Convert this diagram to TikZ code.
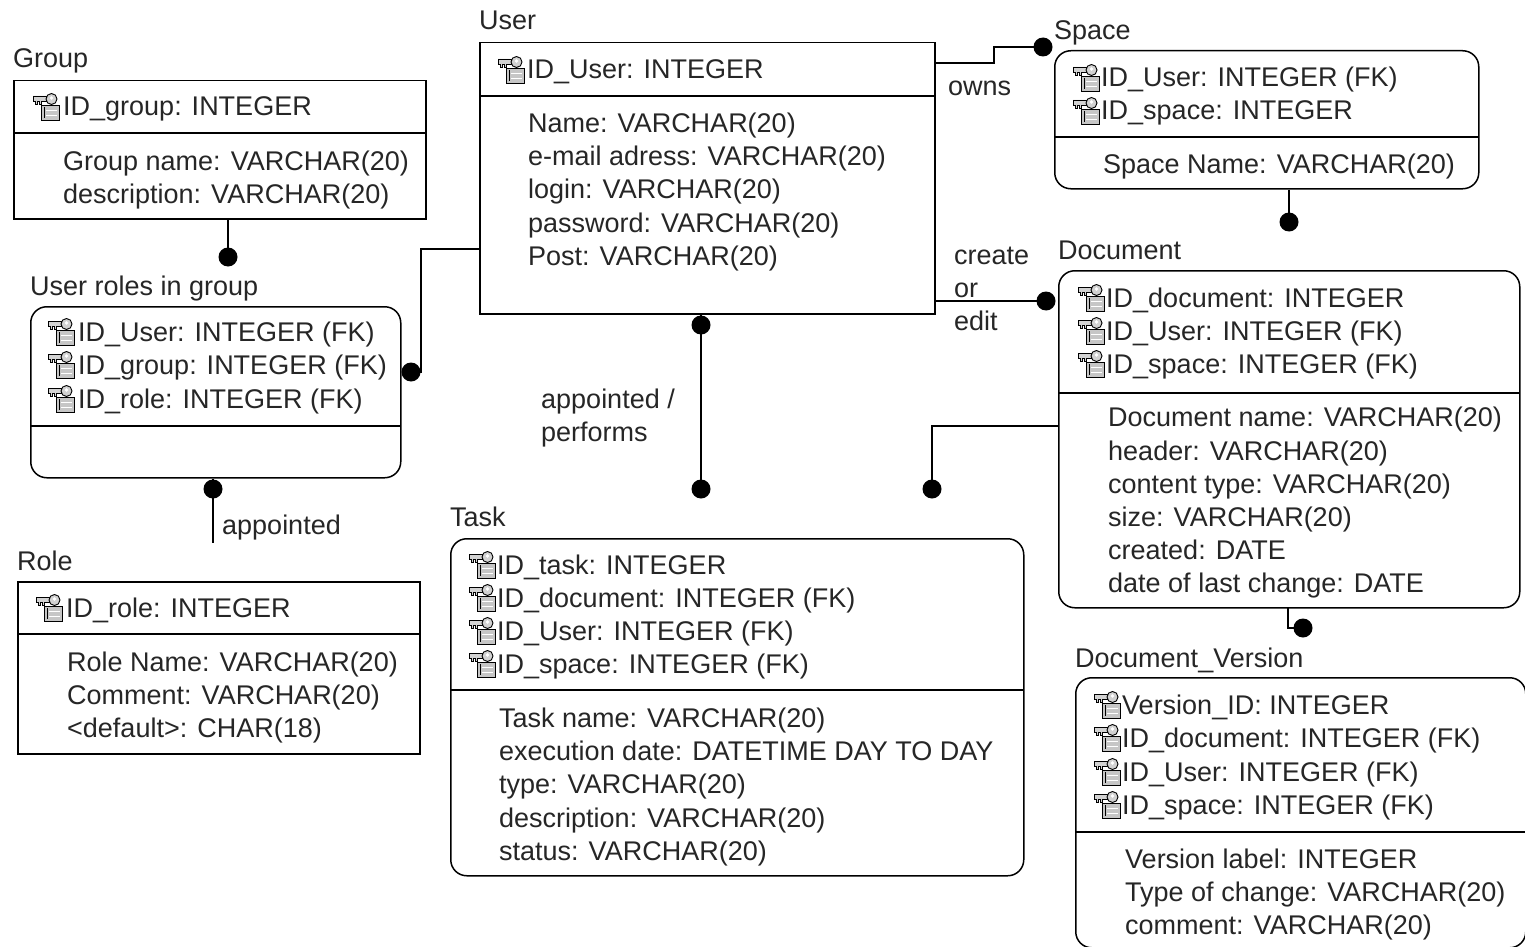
\documentclass[tikz,border=0pt]{standalone}
\usepackage{fontspec}
\setmainfont{Liberation Sans}
\usetikzlibrary{calc}
\newcommand{\krow}[5]{%
  \pic at (#2,#4-14) {keyicon};
  \node[txt] (#1) at (#3,#4+10) {#5};
}
\newcommand{\arow}[4]{%
  \node[txt] (#1) at (#2,#3+10) {#4};
}
\begin{document}
\begin{tikzpicture}[x=1pt,y=-1pt,
  font=\fontsize{27}{33}\selectfont,
  tbl/.style={draw, line width=1.5pt, inner sep=0pt, anchor=north west},
  rtbl/.style={tbl, rounded corners=16pt},
  txt/.style={anchor=base west, inner sep=0pt, text=black!85},
  ttl/.style={anchor=base west, inner sep=0pt, text=black!85},
  dot/.style={circle, fill=black, inner sep=0pt, minimum size=19pt},
  conn/.style={line width=1.5pt},
  div/.style={line width=1.5pt},
  keyicon/.pic={
    \draw[line width=0.9pt, fill=gray!45] (9,13) rectangle (27,28);
    \draw[line width=0.9pt, white] (14,18.5) -- (25,18.5) (14,23) -- (25,23);
    \draw[line width=0.9pt] (12.5,15) -- (12.5,26);
    \draw[line width=0.9pt, fill=gray!35] (1,4) -- (14,4) -- (14,9) -- (9,9) -- (9,12) -- (7,12) -- (7,9) -- (5,9) -- (5,12) -- (3,12) -- (3,9) -- (1,9) -- cycle;
    \draw[line width=0.9pt, fill=gray!35] (19.5,7) circle (5.5);
    \fill[white] (19.5,6) circle (1.8);
  }]
\useasboundingbox (0,0) rectangle (1525,947);
\fill[white] (0,0) rectangle (1525,947);

% ---------- Group ----------
\node[ttl] (tgroup) at (13,68) {Group};
\node[tbl, minimum width=412pt, minimum height=138pt] (group) at (13,80) {};
\draw[div] (13,133) -- (425,133);
\krow{g1}{32}{63}{106}{ID\_group: INTEGER}
\arow{g2}{63}{160}{Group name: VARCHAR(20)}
\arow{g3}{63}{193}{description: VARCHAR(20)}

% ---------- User roles in group ----------
\node[ttl] (tur) at (30,295) {User roles in group};
\node[rtbl, minimum width=370pt, minimum height=171pt] (ur) at (30,306) {};
\draw[div] (30,426) -- (400,426);
\krow{u1}{47}{78}{331}{ID\_User: INTEGER (FK)}
\krow{u2}{47}{78}{364}{ID\_group: INTEGER (FK)}
\krow{u3}{47}{78}{398}{ID\_role: INTEGER (FK)}

% ---------- Role ----------
\node[ttl] (trole) at (17,570) {Role};
\node[tbl, minimum width=402pt, minimum height=172pt] (role) at (17,581) {};
\draw[div] (17,634) -- (419,634);
\krow{r1}{35}{66}{607}{ID\_role: INTEGER}
\arow{r2}{67}{661}{Role Name: VARCHAR(20)}
\arow{r3}{67}{694}{Comment: VARCHAR(20)}
\arow{r4}{67}{727}{<default>: CHAR(18)}

% ---------- User ----------
\node[ttl] (tuser) at (479,30) {User};
\node[tbl, minimum width=455pt, minimum height=271pt] (user) at (479,42) {};
\draw[div] (479,96) -- (934,96);
\krow{us1}{497}{527}{69}{ID\_User: INTEGER}
\arow{us2}{528}{122}{Name: VARCHAR(20)}
\arow{us3}{528}{155}{e-mail adress: VARCHAR(20)}
\arow{us4}{528}{188}{login: VARCHAR(20)}
\arow{us5}{528}{222}{password: VARCHAR(20)}
\arow{us6}{528}{255}{Post: VARCHAR(20)}

% ---------- Space ----------
\node[ttl] (tspace) at (1054,40) {Space};
\node[rtbl, minimum width=424pt, minimum height=138pt] (space) at (1054,50) {};
\draw[div] (1054,137) -- (1478,137);
\krow{s1}{1072}{1101}{77}{ID\_User: INTEGER (FK)}
\krow{s2}{1072}{1101}{110}{ID\_space: INTEGER}
\arow{s3}{1103}{163}{Space Name: VARCHAR(20)}

% ---------- Document ----------
\node[ttl] (tdoc) at (1058,259) {Document};
\node[rtbl, minimum width=461pt, minimum height=337pt] (doc) at (1058,270) {};
\draw[div] (1058,393) -- (1519,393);
\krow{d1}{1077}{1106}{297}{ID\_document: INTEGER}
\krow{d2}{1077}{1106}{330}{ID\_User: INTEGER (FK)}
\krow{d3}{1077}{1106}{363}{ID\_space: INTEGER (FK)}
\arow{d4}{1108}{416}{Document name: VARCHAR(20)}
\arow{d5}{1108}{450}{header: VARCHAR(20)}
\arow{d6}{1108}{483}{content type: VARCHAR(20)}
\arow{d7}{1108}{516}{size: VARCHAR(20)}
\arow{d8}{1108}{549}{created: DATE}
\arow{d9}{1108}{582}{date of last change: DATE}

% ---------- Task ----------
\node[ttl] (ttask) at (450,526) {Task};
\node[rtbl, minimum width=573pt, minimum height=337pt] (task) at (450,538) {};
\draw[div] (450,690) -- (1023,690);
\krow{t1}{468}{497}{564}{ID\_task: INTEGER}
\krow{t2}{468}{497}{597}{ID\_document: INTEGER (FK)}
\krow{t3}{468}{497}{630}{ID\_User: INTEGER (FK)}
\krow{t4}{468}{497}{663}{ID\_space: INTEGER (FK)}
\arow{t5}{499}{717}{Task name: VARCHAR(20)}
\arow{t6}{499}{750}{execution date: DATETIME DAY TO DAY}
\arow{t7}{499}{783}{type: VARCHAR(20)}
\arow{t8}{499}{817}{description: VARCHAR(20)}
\arow{t9}{499}{850}{status: VARCHAR(20)}

% ---------- Document_Version ----------
\node[ttl] (tdv) at (1075,667) {Document\_Version};
\node[rtbl, minimum width=450pt, minimum height=270pt] (dv) at (1075,677) {};
\draw[div] (1075,832) -- (1525,832);
\krow{v1}{1093}{1122}{704}{Version\_ID: INTEGER}
\krow{v2}{1093}{1122}{737}{ID\_document: INTEGER (FK)}
\krow{v3}{1093}{1122}{771}{ID\_User: INTEGER (FK)}
\krow{v4}{1093}{1122}{804}{ID\_space: INTEGER (FK)}
\arow{v5}{1125}{858}{Version label: INTEGER}
\arow{v6}{1125}{891}{Type of change: VARCHAR(20)}
\arow{v7}{1125}{924}{comment: VARCHAR(20)}

% ---------- connectors ----------
% Group -> User roles
\node[dot] (k1) at (228,257) {};
\draw[conn] (group.south -| k1) -- (k1.center);
% User -> User roles
\node[dot] (k2) at (411,372) {};
\coordinate (b2a) at (421,249);
\coordinate (b2b) at (421,372);
\draw[conn] (user.west |- b2a) -- (b2a) -- (b2b) -- (k2.center);
% User roles -> Role
\node[dot] (k3) at (213,489) {};
\coordinate (e3) at (213,543);
\draw[conn] (ur.south -| k3) -- (k3.center) -- (e3);
\node[txt] (lappointed) at (222,534) {appointed};
% User -> Space
\node[dot] (k4) at (1043,47) {};
\coordinate (b4a) at (994,63);
\coordinate (b4b) at (994,47);
\draw[conn] (user.east |- b4a) -- (b4a) -- (b4b) -- (k4.center);
\node[txt] (lowns) at (948,96) {owns};
% User -> Document
\node[dot] (k5) at (1046,301) {};
\draw[conn] (user.east |- k5) -- (k5.center);
\node[txt] (lcreate) at (954,264) {create};
\node[txt] (lor) at (954,297) {or};
\node[txt] (ledit) at (954,330) {edit};
% Space -> Document
\node[dot] (k6) at (1289,222) {};
\draw[conn] (space.south -| k6) -- (k6.center);
% User -> Task
\node[dot] (k7) at (701,325) {};
\node[dot] (k8) at (701,489) {};
\coordinate (e8) at (701,497);
\draw[conn] (user.south -| k7) -- (k7.center) -- (k8.center) -- (e8);
\node[txt] (lapp) at (541,408) {appointed /};
\node[txt] (lperf) at (541,441) {performs};
% Document -> Task
\node[dot] (k9) at (932,489) {};
\coordinate (b9) at (932,426);
\draw[conn] (doc.west |- b9) -- (b9) -- (k9.center);
% Document -> Document_Version
\node[dot] (k10) at (1303,628) {};
\coordinate (b10a) at (1288,607);
\coordinate (b10b) at (1288,628);
\draw[conn] (b10a) -- (b10b) -- (k10.center);
\end{tikzpicture}
\end{document}
